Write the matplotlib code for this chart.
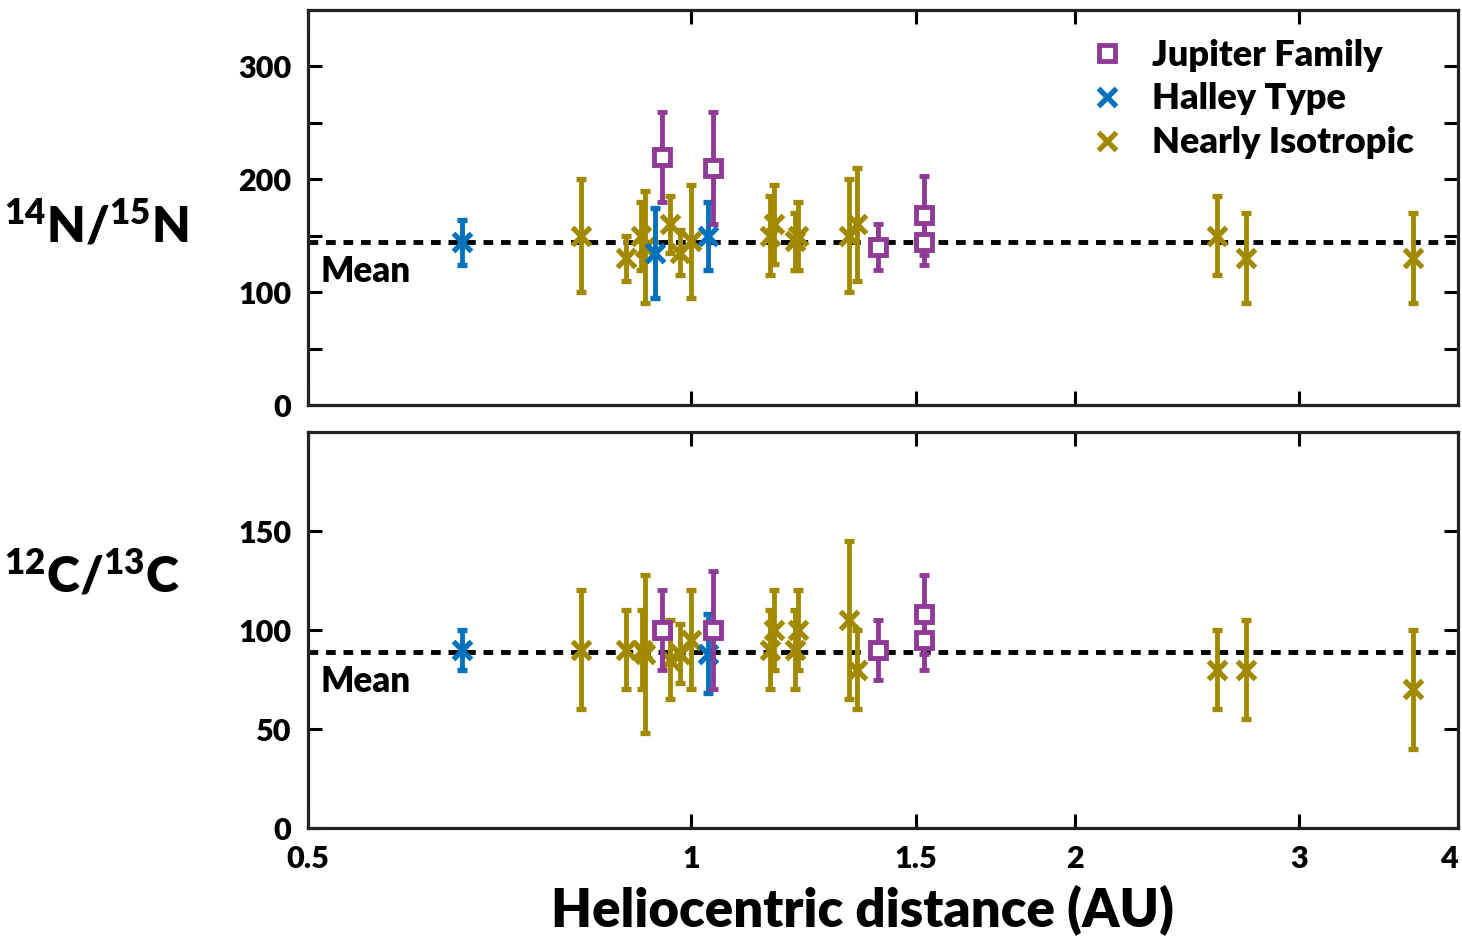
import matplotlib
matplotlib.use('Agg')
import matplotlib.pyplot as plt
from matplotlib.lines import Line2D
from matplotlib.ticker import NullLocator

plt.rcParams['font.family'] = 'Lato'
plt.rcParams['font.weight'] = 'heavy'
plt.rcParams['axes.labelweight'] = 'heavy'
plt.rcParams['mathtext.fontset'] = 'custom'
plt.rcParams['mathtext.rm'] = 'Lato:heavy'

# 14N/15N
jf_x_n = [0.949, 1.040, 1.401, 1.522, 1.522]
jf_n = [220, 210, 140, 168, 144]
jf_n_err = [40, 50, 20, 35, 20]

ht_x_n = [0.661, 0.936, 1.030]
ht_n = [144, 135, 150]
ht_n_err = [20, 40, 30]

ni_x_n = [0.819, 0.889, 0.913, 0.919, 0.962, 0.979, 0.999, 1.153, 1.162,
          1.205, 1.213, 1.329, 1.349, 2.587, 2.726, 3.69]
ni_n = [150, 130, 150, 140, 160, 135, 145, 150, 160, 145, 150, 150, 160, 150, 130, 130]
ni_n_err = [50, 20, 30, 50, 25, 20, 50, 35, 35, 25, 30, 50, 50, 35, 40, 40]

# 12C/13C
jf_x_c = [0.949, 1.040, 1.401, 1.522, 1.522]
jf_c = [100, 100, 90, 108, 95]
jf_c_err = [20, 30, 15, 20, 15]

ht_x_c = [0.661, 1.030]
ht_c = [90, 88]
ht_c_err = [10, 20]

ni_x_c = [0.819, 0.889, 0.914, 0.919, 0.962, 0.979, 0.999, 1.153, 1.162,
          1.205, 1.213, 1.329, 1.349, 2.587, 2.726, 3.69]
ni_c = [90, 90, 90, 88, 85, 88, 95, 90, 100, 90, 100, 105, 80, 80, 80, 70]
ni_c_err = [30, 20, 20, 40, 20, 15, 25, 20, 20, 20, 20, 40, 20, 20, 25, 30]

mean_n = 144
mean_c = 89

c_jf = '#8E3A96'
c_ht = '#0072BD'
c_ni = '#A28A00'

fig = plt.figure(figsize=(14.62, 9.40), dpi=100)
ax1 = fig.add_axes([0.2107, 0.5691, 0.7866, 0.4203])
ax2 = fig.add_axes([0.2107, 0.1191, 0.7866, 0.4213])

def panel(ax, jx, jy, je, hx, hy, he, nx, ny, ne, mean):
    kw = dict(elinewidth=3.5, capsize=3.5, capthick=2.5, linestyle='none')
    ax.axhline(mean, color='k', lw=3.5, ls=(0, (2, 1.6)), zorder=1)
    ax.errorbar(nx, ny, yerr=ne, fmt='x', color=c_ni, ms=13, mew=3.8, zorder=2, **kw)
    ax.errorbar(hx, hy, yerr=he, fmt='x', color=c_ht, ms=13, mew=3.8, zorder=3, **kw)
    ax.errorbar(jx, jy, yerr=je, fmt='s', color=c_jf, ms=11, mew=3.5, mfc='white',
                zorder=4, **kw)
    ax.set_xscale('log')
    ax.set_xlim(0.5, 4)
    ax.set_xticks([0.5, 1, 1.5, 2, 3, 4])
    ax.set_xticklabels(['0.5', '1', '1.5', '2', '3', '4'])
    ax.xaxis.set_minor_locator(NullLocator())
    ax.tick_params(direction='in', top=True, right=True, length=10, width=2.2,
                   labelsize=22, pad=12)
    for s in ax.spines.values():
        s.set_linewidth(2.3)
        s.set_color('#222222')

panel(ax1, jf_x_n, jf_n, jf_n_err, ht_x_n, ht_n, ht_n_err, ni_x_n, ni_n, ni_n_err, mean_n)
panel(ax2, jf_x_c, jf_c, jf_c_err, ht_x_c, ht_c, ht_c_err, ni_x_c, ni_c, ni_c_err, mean_c)

ax1.set_ylim(0, 350)
ax1.set_yticks(range(0, 301, 50))
ax1.set_yticklabels(['0', '', '100', '', '200', '', '300'])
ax1.tick_params(axis='x', labelbottom=False)
ax2.set_ylim(0, 200)
ax2.set_yticks([0, 50, 100, 150])
ax2.get_xticklabels()[-1].set_horizontalalignment('right')

ax1.text(0.011, 118, 'Mean', fontsize=25, va='center',
         transform=ax1.get_yaxis_transform())
ax2.text(0.011, 74, 'Mean', fontsize=25, va='center',
         transform=ax2.get_yaxis_transform())

ax2.set_xlabel('Heliocentric distance (AU)', fontsize=38)
ax2.xaxis.set_label_coords(0.482, -0.145)

handles = [
    Line2D([], [], marker='s', color=c_jf, mfc='white', ms=11, mew=3.5, ls='none'),
    Line2D([], [], marker='x', color=c_ht, ms=13, mew=3.8, ls='none'),
    Line2D([], [], marker='x', color=c_ni, ms=13, mew=3.8, ls='none'),
]
ax1.legend(handles, ['Jupiter Family', 'Halley Type', 'Nearly Isotropic'],
           loc='upper right', bbox_to_anchor=(0.99, 1.01), frameon=False,
           fontsize=26, handlelength=1.0, handletextpad=0.75, labelspacing=0.3)

fig.text(0.066, 0.760, r'$\mathregular{^{14}N/^{15}N}$', fontsize=36,
         ha='center', va='center')
fig.text(0.063, 0.388, r'$\mathregular{^{12}C/^{13}C}$', fontsize=36,
         ha='center', va='center')

fig.savefig('out.png', dpi=100)
